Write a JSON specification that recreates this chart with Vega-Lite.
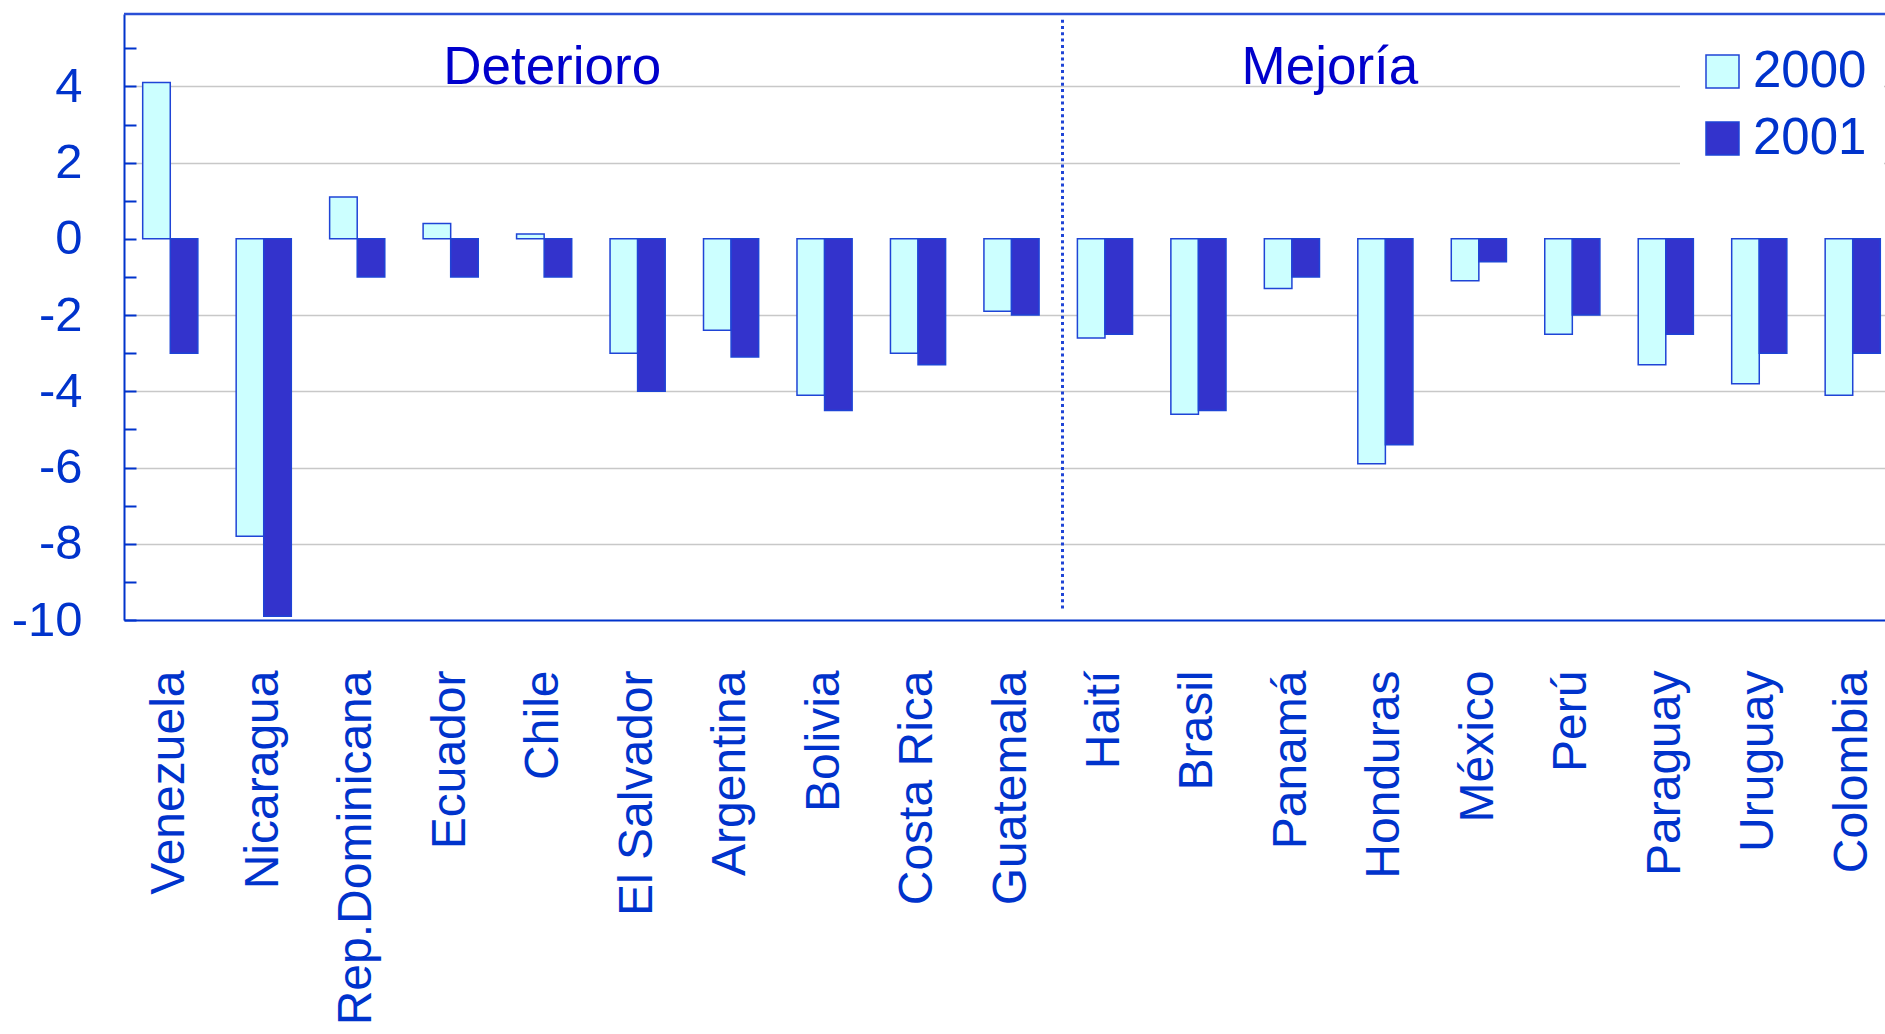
{
  "$schema": "https://vega.github.io/schema/vega-lite/v6.json",
  "autosize": {"type": "none"},
  "padding": {"left": 124, "top": 14, "right": 0, "bottom": 414},
  "width": 1761,
  "height": 606,
  "background": "white",
  "config": {"view": {"stroke": null}, "font": "Liberation Sans"},
  "datasets": {
    "bars": [
      {"country": "Venezuela", "year": "2000", "value": 4.1},
      {"country": "Venezuela", "year": "2001", "value": -3.0},
      {"country": "Nicaragua", "year": "2000", "value": -7.8},
      {"country": "Nicaragua", "year": "2001", "value": -9.9},
      {"country": "Rep.Dominicana", "year": "2000", "value": 1.1},
      {"country": "Rep.Dominicana", "year": "2001", "value": -1.0},
      {"country": "Ecuador", "year": "2000", "value": 0.4},
      {"country": "Ecuador", "year": "2001", "value": -1.0},
      {"country": "Chile", "year": "2000", "value": 0.13},
      {"country": "Chile", "year": "2001", "value": -1.0},
      {"country": "El Salvador", "year": "2000", "value": -3.0},
      {"country": "El Salvador", "year": "2001", "value": -4.0},
      {"country": "Argentina", "year": "2000", "value": -2.4},
      {"country": "Argentina", "year": "2001", "value": -3.1},
      {"country": "Bolivia", "year": "2000", "value": -4.1},
      {"country": "Bolivia", "year": "2001", "value": -4.5},
      {"country": "Costa Rica", "year": "2000", "value": -3.0},
      {"country": "Costa Rica", "year": "2001", "value": -3.3},
      {"country": "Guatemala", "year": "2000", "value": -1.9},
      {"country": "Guatemala", "year": "2001", "value": -2.0},
      {"country": "Haití", "year": "2000", "value": -2.6},
      {"country": "Haití", "year": "2001", "value": -2.5},
      {"country": "Brasil", "year": "2000", "value": -4.6},
      {"country": "Brasil", "year": "2001", "value": -4.5},
      {"country": "Panamá", "year": "2000", "value": -1.3},
      {"country": "Panamá", "year": "2001", "value": -1.0},
      {"country": "Honduras", "year": "2000", "value": -5.9},
      {"country": "Honduras", "year": "2001", "value": -5.4},
      {"country": "México", "year": "2000", "value": -1.1},
      {"country": "México", "year": "2001", "value": -0.6},
      {"country": "Perú", "year": "2000", "value": -2.5},
      {"country": "Perú", "year": "2001", "value": -2.0},
      {"country": "Paraguay", "year": "2000", "value": -3.3},
      {"country": "Paraguay", "year": "2001", "value": -2.5},
      {"country": "Uruguay", "year": "2000", "value": -3.8},
      {"country": "Uruguay", "year": "2001", "value": -3.0},
      {"country": "Colombia", "year": "2000", "value": -4.1},
      {"country": "Colombia", "year": "2001", "value": -3.0}
    ],
    "divider": [{"country": "Guatemala"}],
    "frame": [{"top": 5.9}],
    "titles": [
      {"country": "Chile", "label": "Deterioro"}
    ],
    "titles2": [
      {"country": "Panamá", "label": "Mejoría"}
    ]
  },
  "layer": [
    {
      "data": {"name": "bars"},
      "mark": {"type": "bar", "stroke": "#1f44d6", "strokeWidth": 1.5},
      "encoding": {
        "x": {
          "field": "country",
          "type": "nominal",
          "sort": null,
          "scale": {
            "domain": ["Venezuela", "Nicaragua", "Rep.Dominicana", "Ecuador", "Chile", "El Salvador", "Argentina", "Bolivia", "Costa Rica", "Guatemala", "Haití", "Brasil", "Panamá", "Honduras", "México", "Perú", "Paraguay", "Uruguay", "Colombia"],
            "range": [0, 1775],
            "paddingInner": 0.41,
            "paddingOuter": 0.2
          },
          "axis": {
            "title": null,
            "labelAngle": -90,
            "labelAlign": "right",
            "labelBaseline": "middle",
            "labelFontSize": 48,
            "labelFont": "Liberation Sans",
            "labelColor": "#0033CC",
            "labelPadding": 50,
            "labelLimit": 0,
            "labelOverlap": false,
            "ticks": false,
            "domain": true,
            "domainColor": "#0033CC",
            "domainWidth": 2,
            "grid": false
          }
        },
        "xOffset": {"field": "year", "type": "nominal"},
        "y": {
          "field": "value",
          "type": "quantitative",
          "scale": {"domain": [-10, 5.9], "nice": false, "zero": false},
          "axis": {
            "title": null,
            "values": [-10, -9, -8, -7, -6, -5, -4, -3, -2, -1, 0, 1, 2, 3, 4, 5],
            "labelExpr": "datum.value % 2 === 0 ? '' + datum.value : ''",
            "labelFontSize": 49,
            "labelFont": "Liberation Sans",
            "labelColor": "#0033CC",
            "labelPadding": 54,
            "labelOverlap": false,
            "labelFlush": false,
            "domain": true,
            "domainColor": "#0033CC",
            "domainWidth": 2,
            "ticks": true,
            "tickSize": -12,
            "tickColor": "#0033CC",
            "tickWidth": 2,
            "grid": true,
            "gridColor": "#c8c8c8",
            "gridWidth": 1.5,
            "gridOpacity": {"condition": {"test": "datum.value % 2 !== 0 || datum.value === 0 || datum.value === -10", "value": 0}, "value": 1}
          }
        },
        "color": {
          "field": "year",
          "type": "nominal",
          "scale": {"domain": ["2000", "2001"], "range": ["#CCFFFF", "#3333CC"]},
          "legend": {
            "title": null,
            "orient": "none",
            "legendX": 1556,
            "legendY": 15,
            "fillColor": "white",
            "padding": 17,
            "labelFontSize": 51,
            "labelFont": "Liberation Sans",
            "labelColor": "#0033CC",
            "labelLimit": 400,
            "labelExpr": "datum.label + '\u00a0\u00a0\u00a0'",
            "symbolType": "square",
            "symbolSize": 1089,
            "symbolStrokeColor": "#1f44d6",
            "symbolStrokeWidth": 1.5,
            "symbolOpacity": 1,
            "rowPadding": 15,
            "labelOffset": 5
          }
        }
      }
    },
    {
      "mark": {"type": "rule", "color": "#1f44d6", "strokeWidth": 2},
      "encoding": {"y": {"datum": 0}}
    },
    {
      "data": {"name": "frame"},
      "mark": {"type": "rule", "color": "#2a4fd6", "strokeWidth": 2.5},
      "encoding": {"y": {"field": "top", "type": "quantitative"}}
    },
    {
      "data": {"name": "divider"},
      "mark": {"type": "rule", "color": "#1f44d6", "strokeWidth": 3, "strokeDash": [3, 3.3], "xOffset": 51},
      "encoding": {
        "x": {"field": "country", "type": "nominal"},
        "y": {"datum": 5.75},
        "y2": {"datum": -9.7}
      }
    },
    {
      "data": {"name": "titles"},
      "mark": {"type": "text", "fontSize": 53, "font": "Liberation Sans", "color": "#0000CC", "baseline": "alphabetic", "align": "center", "dx": 8, "dy": -2},
      "encoding": {
        "x": {"field": "country", "type": "nominal"},
        "y": {"datum": 4},
        "text": {"field": "label"}
      }
    },
    {
      "data": {"name": "titles2"},
      "mark": {"type": "text", "fontSize": 53, "font": "Liberation Sans", "color": "#0000CC", "baseline": "alphabetic", "align": "center", "dx": 38, "dy": -2},
      "encoding": {
        "x": {"field": "country", "type": "nominal"},
        "y": {"datum": 4},
        "text": {"field": "label"}
      }
    }
  ]
}
